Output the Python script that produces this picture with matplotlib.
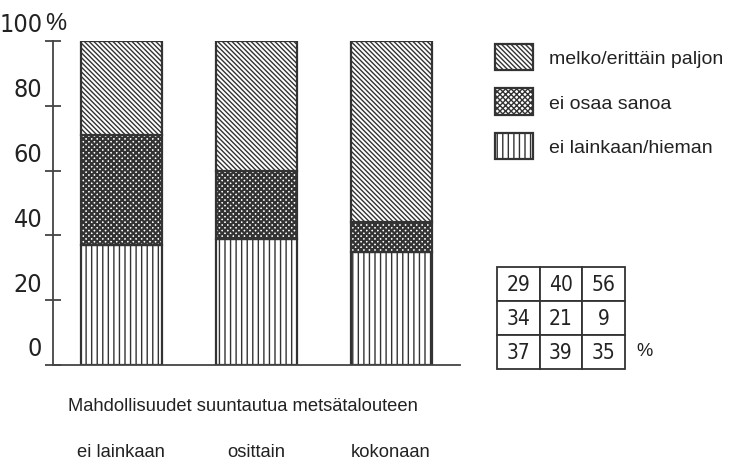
import matplotlib
matplotlib.use("Agg")
import matplotlib.pyplot as plt
from matplotlib import font_manager
from matplotlib.patches import Patch
from matplotlib.transforms import ScaledTranslation
import numpy as np

# data
categories = ["ei lainkaan", "osittain", "kokonaan"]
series_names = ["melko/erittäin paljon", "ei osaa sanoa", "ei lainkaan/hieman"]
paljon = [29, 40, 56]
ei_osaa = [34, 21, 9]
ei_lainkaan = [37, 39, 35]
yticks = [0, 20, 40, 60, 80, 100]
xlabel_text = "Mahdollisuudet suuntautua metsätalouteen"

DPI = 100
W, H = 737, 460
TXT_FONT = "Liberation Sans"
EDGE = "#333333"
plt.rcParams["hatch.color"] = EDGE

# narrow font for the numbers, if one is around
narrow = [f for f in font_manager.fontManager.ttflist
          if f.stretch in ("condensed", "semi-condensed", "extra-condensed")
          or "Narrow" in f.name or "Condensed" in f.name]
if narrow:
    NUM_PROPS = dict(fontfamily=narrow[0].name, fontstretch=narrow[0].stretch)
else:
    NUM_PROPS = dict(fontfamily="DejaVu Sans")
NUM_SIZE, TBL_SIZE = 18, 15

fig = plt.figure(figsize=(W / DPI, H / DPI), dpi=DPI)

def px_axes(x0, y0, x1, y1):
    # pixel box (top-left origin) -> figure fraction
    return [x0 / W, 1 - y1 / H, (x1 - x0) / W, (y1 - y0) / H]

ax = fig.add_axes(px_axes(53, 42, 460, 366))
x = np.arange(len(categories))
width = 0.6
hatches = ["|||", "xxxxxx", "\\\\\\\\\\\\\\"]
hatch_lw = [1.0, 1.6, 1.0]
bottoms = np.zeros(len(categories))
for vals, hatch, hlw in zip([ei_lainkaan, ei_osaa, paljon], hatches, hatch_lw):
    with plt.rc_context({"hatch.linewidth": hlw}):
        ax.bar(x, vals, width, bottom=bottoms, facecolor="white", edgecolor=EDGE,
               hatch=hatch, linewidth=1.6)
    bottoms += np.array(vals)

ax.set_xlim(-0.504, 2.511)
ax.set_ylim(0, 100)
for s in ["top", "right"]:
    ax.spines[s].set_visible(False)
for s in ["left", "bottom"]:
    ax.spines[s].set_color("#444444")
    ax.spines[s].set_linewidth(1.3)

ax.set_yticks(yticks)
ax.set_yticklabels([str(v) for v in yticks], fontsize=NUM_SIZE, color="#222222", **NUM_PROPS)
ax.tick_params(axis="y", direction="inout", length=11.5, width=1.3, color="#444444", pad=2)
for lab in ax.get_yticklabels():
    lab.set_transform(lab.get_transform() + ScaledTranslation(0, 0.19, fig.dpi_scale_trans))
ax.text(-0.02, 1.0, "%", transform=ax.transAxes + ScaledTranslation(0, 0.07, fig.dpi_scale_trans),
        fontfamily=TXT_FONT, fontsize=17, color="#222222", ha="left", va="bottom")

ax.set_xticks(x)
ax.set_xticklabels(categories, fontfamily=TXT_FONT, fontsize=13.2, color="#222222")
ax.tick_params(axis="x", length=0, pad=56)

fig.text(68 / W, 1 - 407 / H, xlabel_text, fontfamily=TXT_FONT, fontsize=13.2,
         color="#222222", ha="left", va="center")

# legend
handles = []
for h, hlw in zip(hatches[::-1], hatch_lw[::-1]):
    with plt.rc_context({"hatch.linewidth": hlw}):
        handles.append(Patch(facecolor="white", edgecolor=EDGE, hatch=h, linewidth=1.6))
fig.legend(handles, series_names, loc="upper left", bbox_to_anchor=(495 / W, 1 - 45 / H),
           frameon=False, prop={"family": TXT_FONT, "size": 14},
           handlelength=1.96, handleheight=1.7, labelspacing=0.93, handletextpad=0.8,
           borderpad=0, borderaxespad=0, labelcolor="#222222")

# table
tax = fig.add_axes(px_axes(497, 268, 625, 370))
tax.axis("off")
cells = [[str(v) for v in row] for row in [paljon, ei_osaa, ei_lainkaan]]
tbl = tax.table(cellText=cells, bbox=[0, 0, 1, 1], cellLoc="center")
tbl.auto_set_font_size(False)
for cell in tbl.get_celld().values():
    cell.set_edgecolor("#333333")
    cell.set_linewidth(1.3)
    cell.get_text().set(fontsize=TBL_SIZE, color="#222222", **NUM_PROPS)
fig.text(636 / W, 1 - 352 / H, "%", fontfamily=TXT_FONT, fontsize=13.2,
         color="#222222", ha="left", va="center")

fig.savefig("out.png", dpi=DPI)
